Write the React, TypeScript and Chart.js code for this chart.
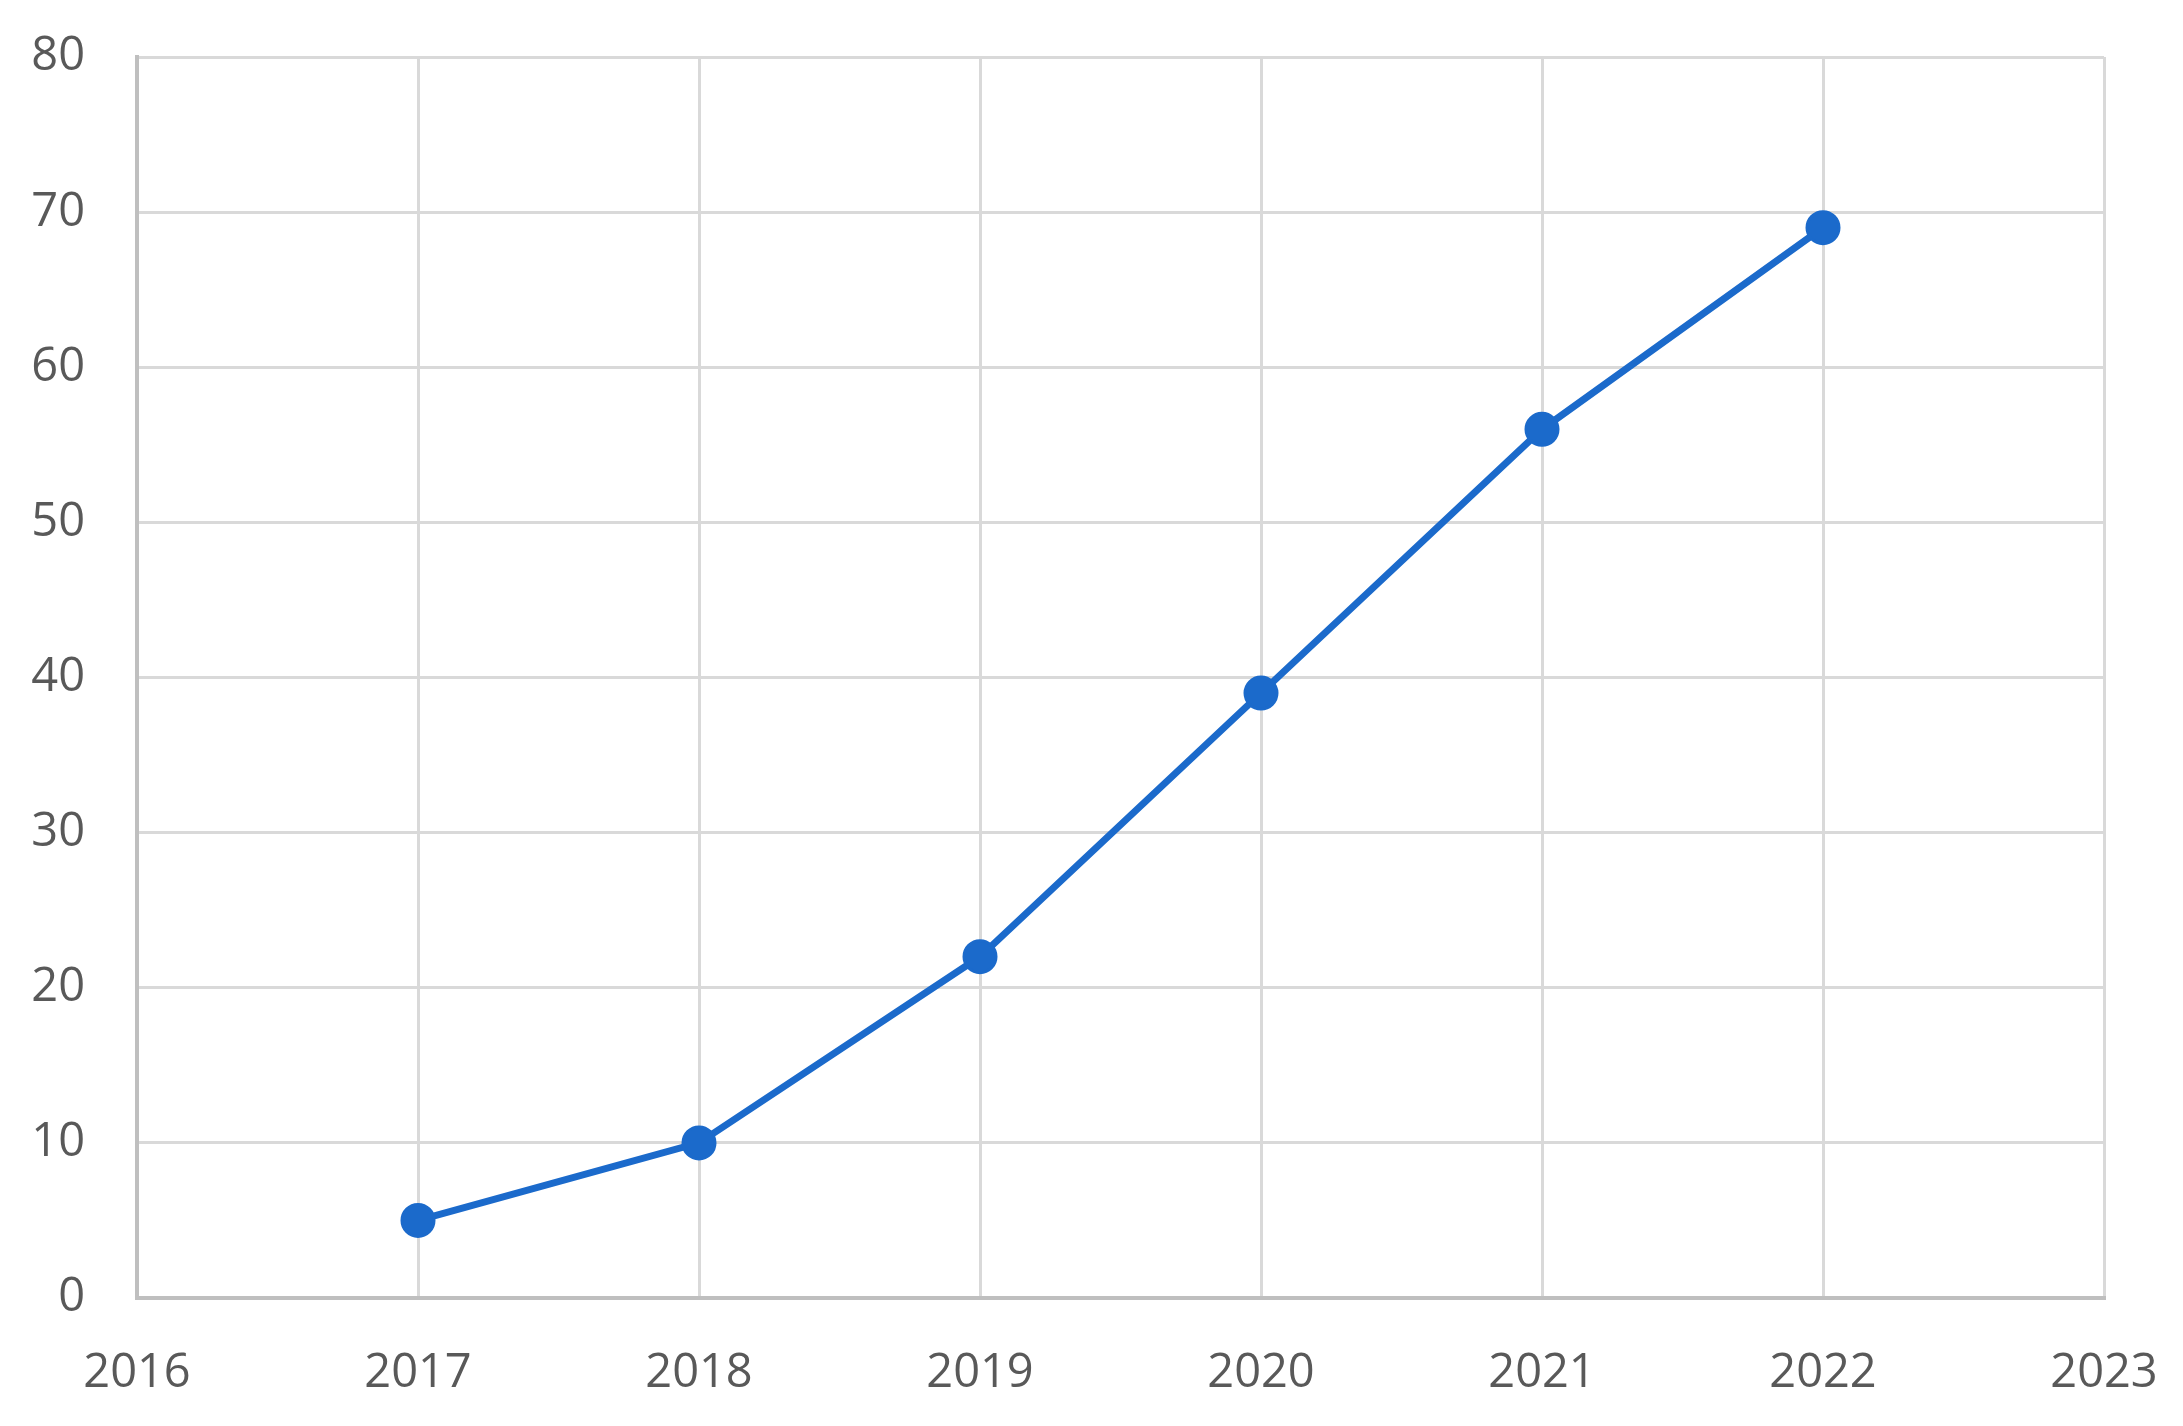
import React, { useEffect, useRef } from "react";
import { Chart, registerables } from "chart.js";

Chart.register(...registerables);

const years = [2017, 2018, 2019, 2020, 2021, 2022];
const values = [5, 10, 22, 39, 56, 69];
const xMin = 2016;
const xMax = 2023;
const yMin = 0;
const yMax = 80;
const yStep = 10;

const LINE_COLOR = "#1b6acb";
const GRID_COLOR = "#d9d9d9";
const AXIS_COLOR = "#bfbfbf";
const TEXT_COLOR = "#595959";

export default function App() {
  const canvasRef = useRef<HTMLCanvasElement | null>(null);

  useEffect(() => {
    const canvas = canvasRef.current;
    if (!canvas) return;
    const chart = new Chart(canvas, {
      type: "line",
      data: {
        datasets: [
          {
            data: years.map((y, i) => ({ x: y, y: values[i] })),
            borderColor: LINE_COLOR,
            backgroundColor: LINE_COLOR,
            borderWidth: 7,
            pointRadius: 16,
            pointBorderWidth: 3,
            pointBackgroundColor: LINE_COLOR,
            pointBorderColor: LINE_COLOR,
            tension: 0,
          },
        ],
      },
      options: {
        animation: false,
        responsive: false,
        maintainAspectRatio: false,
        layout: { padding: { left: 0, right: 79, top: 57, bottom: 0 } },
        plugins: { legend: { display: false }, tooltip: { enabled: false } },
        scales: {
          x: {
            type: "linear",
            min: xMin,
            max: xMax,
            afterFit: (s: any) => {
              s.height = 128;
              s.paddingLeft = 0;
              s.paddingRight = 0;
            },
            ticks: {
              stepSize: 1,
              padding: 47,
              color: TEXT_COLOR,
              font: { family: "'Open Sans'", size: 47 },
              callback: (v: any) => String(v),
              maxRotation: 0,
            },
            grid: { color: GRID_COLOR, lineWidth: 3, drawTicks: false },
            border: { color: AXIS_COLOR, width: 4 },
          },
          y: {
            min: yMin,
            max: yMax,
            afterFit: (s: any) => {
              s.width = 137;
              s.paddingTop = 0;
              s.paddingBottom = 0;
            },
            ticks: {
              stepSize: yStep,
              padding: 52,
              color: TEXT_COLOR,
              font: { family: "'Open Sans'", size: 47 },
            },
            grid: { color: GRID_COLOR, lineWidth: 3, drawTicks: false },
            border: { color: AXIS_COLOR, width: 4 },
          },
        },
      },
    });
    return () => chart.destroy();
  }, []);

  return (
    <div style={{ position: "fixed", left: 0, top: 0, width: 2183, height: 1426, background: "#fff" }}>
      <canvas ref={canvasRef} width={2183} height={1426} style={{ display: "block" }} />
    </div>
  );
}
